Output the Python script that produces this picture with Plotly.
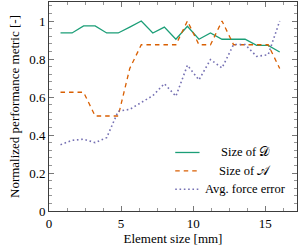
import plotly.graph_objects as go

element_size = [0.8, 1.6, 2.4, 3.2, 4.0, 4.8, 5.6, 6.4, 7.2, 8.0,
                8.8, 9.6, 10.4, 11.2, 12.0, 12.8, 13.6, 14.4, 15.2, 16.0]
size_D = [0.937, 0.937, 0.974, 0.974, 0.937, 0.937, 0.968, 1.0, 0.937, 0.968,
          0.904, 0.972, 0.904, 0.937, 0.904, 0.904, 0.904, 0.872, 0.872, 0.837]
size_A = [0.625, 0.625, 0.625, 0.5, 0.5, 0.5, 0.75, 0.875, 0.875, 0.875,
          0.875, 1.0, 0.875, 0.875, 1.0, 0.875, 0.875, 0.875, 0.875, 0.75]
force_err = [0.349, 0.372, 0.378, 0.36, 0.386, 0.525, 0.535, 0.572, 0.607, 0.67,
             0.604, 0.767, 0.69, 0.797, 0.753, 0.876, 0.876, 0.814, 0.822, 1.0]
x_ticks = [0, 5, 10, 15]
y_ticks = [0, 0.2, 0.4, 0.6, 0.8, 1]
names = ["Size of \U0001D49F", "Size of \U0001D49C", "Avg. force error"]

GREEN = "rgb(27,158,119)"
ORANGE = "rgb(217,95,2)"
PURPLE = "rgb(117,112,179)"
FONT = "Liberation Serif"

series = [
    (size_D, GREEN, "solid", 1.3),
    (size_A, ORANGE, "4.5px,4px", 1.3),
    (force_err, PURPLE, "1.6px,2.7px", 1.6),
]

fig = go.Figure()
for (vals, col, dash, w), nm in zip(series, names):
    fig.add_trace(go.Scatter(x=element_size, y=vals, mode="lines", name=nm,
                             line=dict(color=col, dash=dash, width=w),
                             showlegend=False))

# custom centred legend (pgfplots style)
leg_rows = [0.280, 0.192, 0.104]
for (vals, col, dash, w), nm, yy in zip(series, names, leg_rows):
    fig.add_shape(type="line", xref="paper", yref="paper", x0=0.509, x1=0.607,
                  y0=yy, y1=yy, line=dict(color=col, dash=dash, width=w))
    fig.add_annotation(xref="paper", yref="paper", x=0.791, y=yy, text=nm,
                       showarrow=False, xanchor="center", yanchor="middle",
                       font=dict(family=FONT, size=12.5, color="black"))

axis_common = dict(showline=True, linecolor="rgb(60,60,60)", linewidth=1,
                   mirror="ticks", ticks="inside", ticklen=5, tickwidth=0.8,
                   tickcolor="rgb(120,120,120)", showgrid=False, zeroline=False,
                   automargin=False,
                   tickfont=dict(family=FONT, size=13, color="black"))

fig.update_xaxes(range=[0, 17.2], tickvals=x_ticks, ticktext=[str(v) for v in x_ticks],
                 title=dict(text="Element size [mm]", font=dict(family=FONT, size=13, color="black"),
                            standoff=3),
                 minor=dict(dtick=1.25, tick0=0, ticks="inside", ticklen=3,
                            tickcolor="rgb(150,150,150)", tickwidth=0.8),
                 **axis_common)
fig.update_yaxes(range=[0, 1.1], tickvals=y_ticks, ticktext=["0", "0.2", "0.4", "0.6", "0.8", "1"],
                 title=dict(text="Normalized performance metric [-]",
                            font=dict(family=FONT, size=13, color="black"), standoff=6),
                 minor=dict(dtick=0.04, tick0=0, ticks="inside", ticklen=3,
                            tickcolor="rgb(150,150,150)", tickwidth=0.8),
                 **axis_common)

fig.update_layout(width=303, height=250, margin=dict(l=49, r=6, t=2, b=39),
                  plot_bgcolor="white", paper_bgcolor="white",
                  font=dict(family=FONT, size=13, color="black"))
fig.write_html("out.html", config={"displayModeBar": False},
               post_script="document.body.style.margin='0';document.body.style.padding='0';document.body.style.overflow='hidden';")
